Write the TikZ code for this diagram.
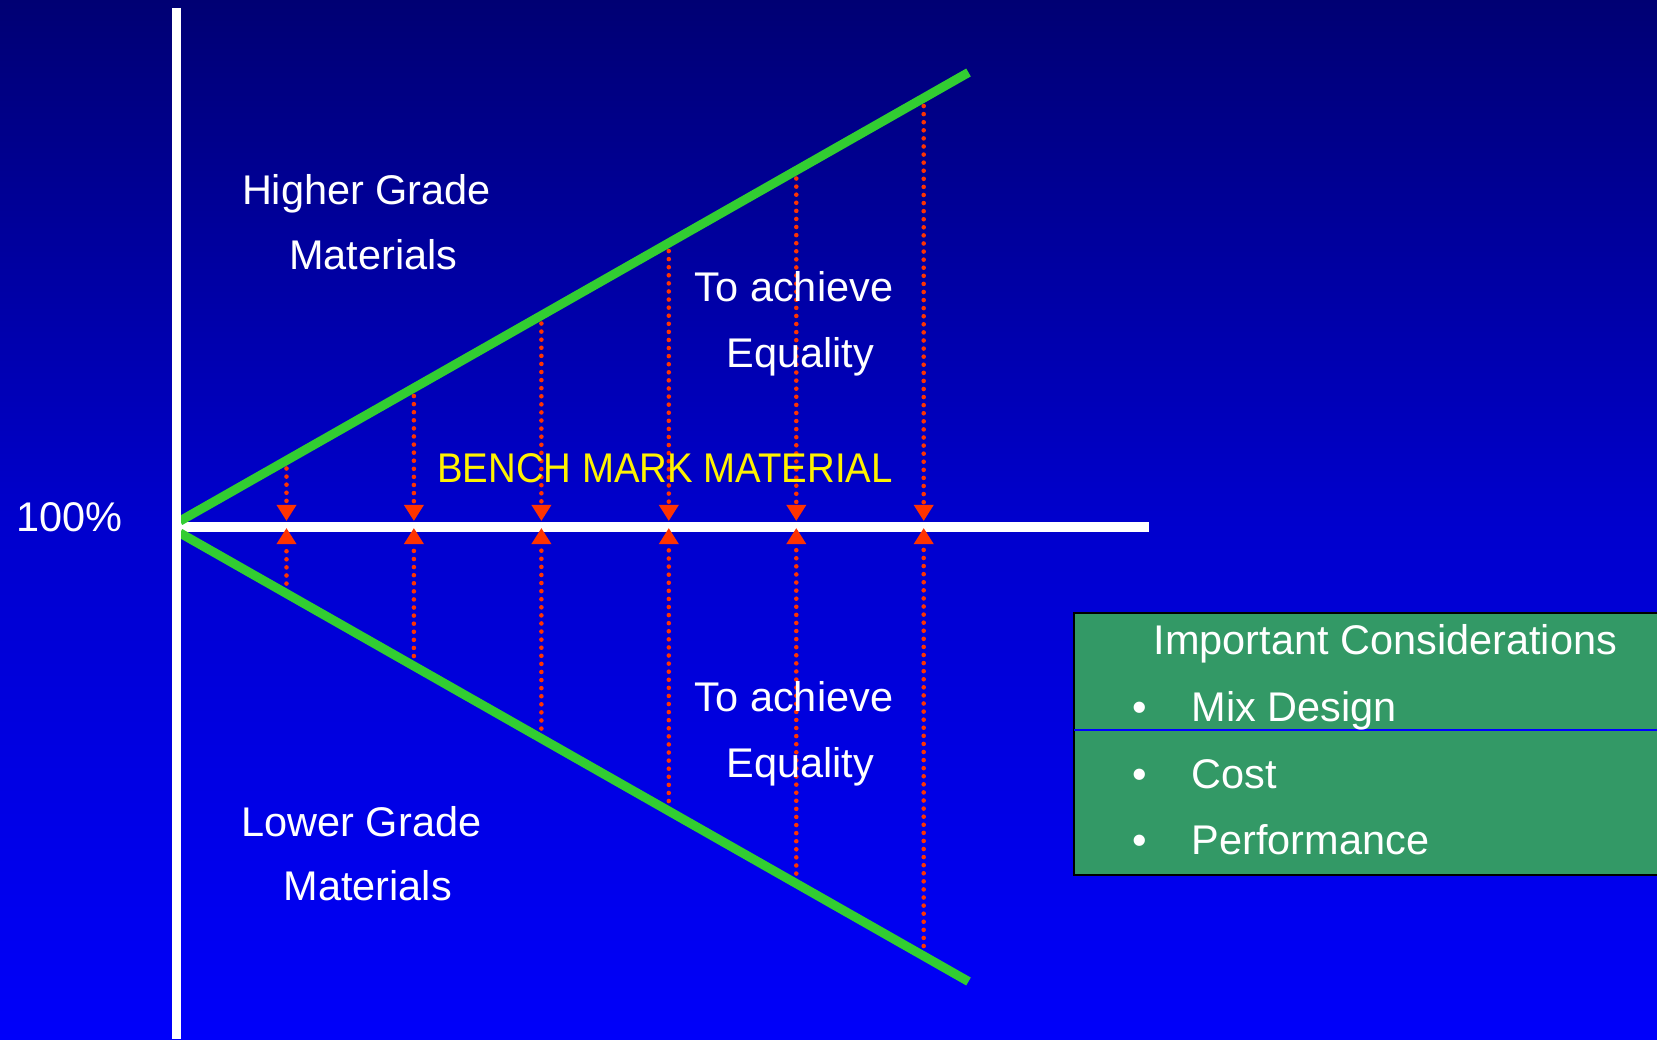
\documentclass[tikz,border=0pt]{standalone}
\usepackage{fontspec}
\setmainfont{Liberation Sans}
\newfontfamily\benchfont[FakeStretch=0.925]{Liberation Sans}
\usetikzlibrary{arrows.meta,calc}

\definecolor{slidetop}{RGB}{0,0,115}
\definecolor{slidemid}{RGB}{0,0,205}
\definecolor{slidebot}{RGB}{0,0,250}
\definecolor{gradegreen}{RGB}{50,205,50}
\definecolor{tiered}{RGB}{255,51,0}
\definecolor{boxgreen}{RGB}{51,153,102}

\tikzset{
  slidetext/.style={text=white, font=\fontsize{11.8}{14}\selectfont, inner sep=0pt, anchor=base},
  tieline/.style={tiered, line width=1.3pt, line cap=round, dash pattern=on 0pt off 2.3pt,
    -{Triangle[width=5.4pt,length=4.6pt]}},
  gradeedge/.style={gradegreen, line width=2.6pt},
  axisline/.style={white, line width=2.6pt},
}

\begin{document}
\begin{tikzpicture}
  \clip (0,0) rectangle (16.57,10.39);
  \shade[top color=slidetop, bottom color=slidebot, middle color=slidemid] (0,0) rectangle (16.57,10.39);

  % axes and the two grade lines
  \coordinate (vtop) at (1.765,10.31);
  \coordinate (vbot) at (1.765,0);
  \coordinate (hleft) at (1.765,5.12);
  \coordinate (hright) at (11.49,5.12);
  \coordinate (hiA) at (1.80,5.18);
  \coordinate (hiB) at (9.685,9.665);
  \coordinate (loA) at (1.80,5.06);
  \coordinate (loB) at (9.685,0.575);

  \draw[axisline] (hleft) -- (hright);

  \foreach \x [count=\i] in {2.865,4.139,5.414,6.688,7.963,9.237} {
    \coordinate (up\i) at ($(hiA)!{(\x-1.80)/7.885}!(hiB)$);
    \coordinate (dn\i) at ($(loA)!{(\x-1.80)/7.885}!(loB) + (0,0.1)$);
    \coordinate (tipa\i) at (\x,5.18);
    \coordinate (tipb\i) at (\x,5.11);
    \draw[tieline] (up\i) -- (tipa\i);
    \draw[tieline] (dn\i) -- (tipb\i);
  }

  \draw[gradeedge] (hiA) -- (hiB);
  \draw[gradeedge] (loA) -- (loB);
  \draw[axisline] (vtop) -- (vbot);

  \node[slidetext] (pct) at (0.695,5.07) {100\%};
  \node[slidetext] (hi1) at (3.665,8.34) {Higher Grade};
  \node[slidetext] (hi2) at (3.735,7.69) {Materials};
  \node[slidetext] (eqa1) at (7.94,7.37) {To achieve};
  \node[slidetext] (eqa2) at (8.005,6.71) {Equality};
  \node[slidetext, text=yellow, font=\benchfont\fontsize{11.8}{14}\selectfont] (bench) at (6.65,5.56) {BENCH MARK MATERIAL};
  \node[slidetext] (eqb1) at (7.94,3.27) {To achieve};
  \node[slidetext] (eqb2) at (8.005,2.61) {Equality};
  \node[slidetext] (lo1) at (3.614,2.03) {Lower Grade};
  \node[slidetext] (lo2) at (3.678,1.38) {Materials};

  % considerations box
  \draw[fill=boxgreen, draw=black, line width=0.8pt] (10.74,1.64) rectangle (16.8,4.26);
  \draw[blue, line width=0.4pt] (10.74,3.09) -- (16.8,3.09);
  \node[slidetext, anchor=base west] (imp) at (11.53,3.84) {Important Considerations};
  \foreach \entry [count=\j] in {Mix Design,Cost,Performance} {
    \node[slidetext] (dot\j) at (11.40,{3.83-0.66*\j}) {\textbullet};
    \node[slidetext, anchor=base west] (entry\j) at (11.91,{3.83-0.66*\j}) {\entry};
  }
\end{tikzpicture}
\end{document}
